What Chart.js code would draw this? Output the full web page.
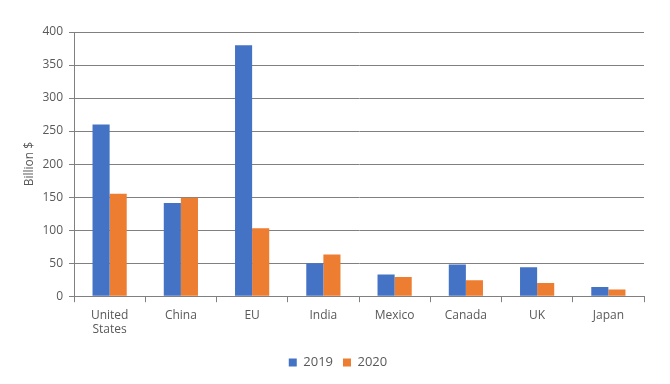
<!DOCTYPE html>
<html>
<head>
<meta charset="utf-8">
<script src="https://cdn.jsdelivr.net/npm/chart.js@4/dist/chart.umd.min.js"></script>
<style>
  html, body { margin: 0; padding: 0; background: #fff; }
  #wrap { width: 670px; height: 384px; }
</style>
</head>
<body>
<div id="wrap"><canvas id="chart" width="670" height="384"></canvas></div>
<script>
// Data
const categories = [['United', 'States'], 'China', 'EU', 'India', 'Mexico', 'Canada', 'UK', 'Japan'];
const values2019 = [260, 141, 380, 50, 33, 48, 44, 14];
const values2020 = [155, 149, 103, 63, 29, 24, 20, 10];
const yTicks = [0, 50, 100, 150, 200, 250, 300, 350, 400];

const textColor = '#595959';
const gridColor = '#808080';
const font = { family: "'Open Sans', 'Liberation Sans', sans-serif", size: 12 };

// nudge the legend a bit right, like the original
const legendShift = {
    id: 'legendShift',
    afterLayout: function(chart) {
        chart.legend.left += 16;
        chart.legend.right += 16;
    }
};

const ctx = document.getElementById('chart').getContext('2d');
const chart = new Chart(ctx, {
    type: 'bar',
    data: {
        labels: categories,
        datasets: [
            {
                label: '2019',
                data: values2019,
                backgroundColor: '#4472C4',
                categoryPercentage: 0.48,
                barPercentage: 1
            },
            {
                label: '2020',
                data: values2020,
                backgroundColor: '#ED7D31',
                categoryPercentage: 0.48,
                barPercentage: 1
            }
        ]
    },
    options: {
        responsive: false,
        animation: false,
        layout: { padding: { top: 32, right: 26, bottom: 5, left: 0 } },
        scales: {
            x: {
                afterFit: function(scale) {
                    // a little extra room under the labels
                    scale.height += 3;
                },
                ticks: { color: textColor, font: font, padding: 6, maxRotation: 0, autoSkip: false },
                grid: {
                    offset: true,
                    drawOnChartArea: false,
                    tickLength: 6,
                    color: gridColor
                },
                border: { color: gridColor, width: 1 }
            },
            y: {
                min: 0,
                max: 400,
                afterBuildTicks: function(scale) {
                    scale.ticks = yTicks.map(v => ({ value: v }));
                },
                afterFit: function(scale) {
                    scale.width = 74;
                },
                ticks: { color: textColor, font: font, padding: 6 },
                grid: { color: gridColor, tickLength: 5 },
                border: { color: gridColor, width: 1 },
                title: {
                    display: true,
                    text: 'Billion $',
                    color: textColor,
                    font: font,
                    padding: { top: 22, bottom: 2 }
                }
            }
        },
        plugins: {
            legend: {
                position: 'bottom',
                labels: {
                    color: textColor,
                    font: { family: font.family, size: 13 },
                    boxWidth: 8,
                    boxHeight: 8,
                    padding: 10
                }
            },
            tooltip: { enabled: false }
        }
    },
    plugins: [legendShift]
});
</script>
</body>
</html>
